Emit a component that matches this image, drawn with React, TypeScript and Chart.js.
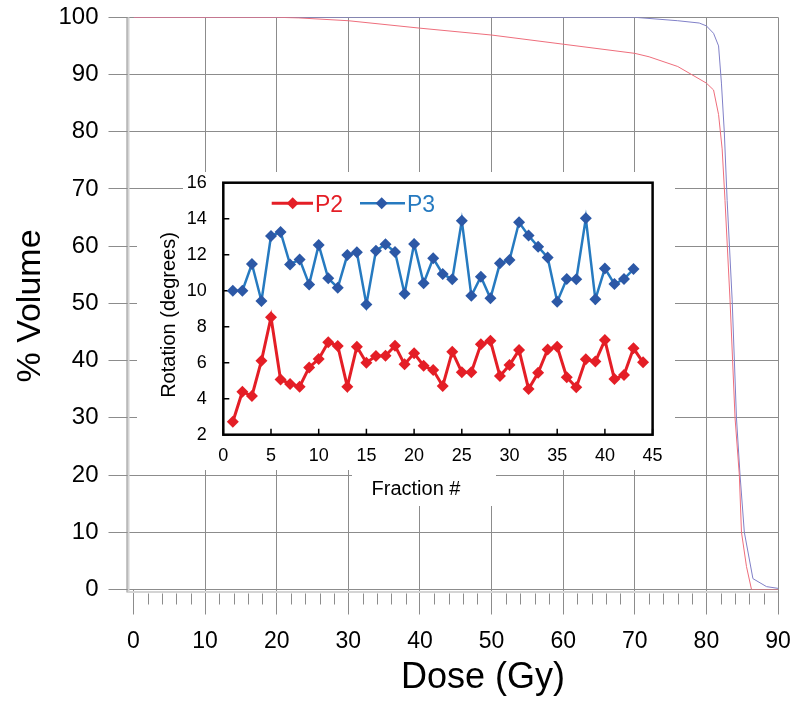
import React, { useEffect, useRef } from 'react';
import { Chart, registerables } from 'chart.js';

Chart.register(...registerables);

const FONT = "'Liberation Sans', Arial, Helvetica, sans-serif";

// ---- Main dose-volume histogram ----
const redDose = [0, 20, 23, 30, 40, 50, 60, 70, 72, 76, 80, 81, 81.7, 82.2, 82.6, 83.3, 84.0, 84.6, 84.9, 85.6, 86.3, 90];
const redVolume = [100, 100, 99.9, 99.4, 98.1, 96.9, 95.3, 93.7, 93.1, 91.4, 88.5, 87.3, 83, 77, 68, 50.6, 30, 20, 10, 4, 0, 0];
const blueDose = [0, 70, 76, 79, 80, 81, 81.7, 82.1, 82.5, 82.9, 83.6, 84.2, 84.7, 85.3, 86.5, 88.4, 90];
const blueVolume = [100, 100, 99.4, 99, 98.5, 97.2, 95, 88.5, 80, 68, 50.6, 30, 20, 10, 1.9, 0.5, 0.2];
const doseTitle = 'Dose (Gy)';
const volumeTitle = '% Volume';

// ---- Inset: rotation per fraction ----
const p2Fractions = [1, 2, 3, 4, 5, 6, 7, 8, 9, 10, 11, 12, 13, 14, 15, 16, 17, 18, 19, 20, 21, 22, 23, 24, 25, 26, 27, 28, 29, 30, 31, 32, 33, 34, 35, 36, 37, 38, 39, 40, 41, 42, 43, 44];
const p2Rotation = [2.72, 4.39, 4.15, 6.11, 8.52, 5.07, 4.82, 4.67, 5.74, 6.2, 7.13, 6.93, 4.67, 6.89, 6.0, 6.37, 6.39, 6.94, 5.91, 6.52, 5.83, 5.59, 4.71, 6.61, 5.47, 5.47, 7.02, 7.22, 5.26, 5.87, 6.7, 4.54, 5.44, 6.74, 6.89, 5.19, 4.63, 6.19, 6.06, 7.26, 5.09, 5.31, 6.8, 6.02];
const p3Fractions = [1, 2, 3, 4, 5, 6, 7, 8, 9, 10, 11, 12, 13, 14, 15, 16, 17, 18, 19, 20, 21, 22, 23, 24, 25, 26, 27, 28, 29, 30, 31, 32, 33, 34, 35, 36, 37, 38, 39, 40, 41, 42, 43];
const p3Rotation = [10.0, 10.0, 11.48, 9.43, 13.04, 13.26, 11.46, 11.74, 10.35, 12.54, 10.69, 10.17, 11.98, 12.13, 9.24, 12.22, 12.58, 12.15, 9.83, 12.6, 10.41, 11.8, 10.93, 10.63, 13.89, 9.72, 10.78, 9.58, 11.52, 11.7, 13.8, 13.06, 12.44, 11.85, 9.39, 10.65, 10.63, 14.02, 9.52, 11.24, 10.37, 10.65, 11.2];
const seriesNames = ['P2', 'P3'];
const insetXTitle = 'Fraction #';
const insetYTitle = 'Rotation (degrees)';

const RED = 'rgb(228,30,38)';
const BLUE_LINE = 'rgb(38,122,192)';
const BLUE_MARK = 'rgb(44,88,166)';
const GRID = 'rgb(140,140,140)';

// inset canvas placement on the page
const INSET = { left: 130, top: 165, width: 550, height: 345 };

function diamond(ctx: CanvasRenderingContext2D, x: number, y: number, r: number, color: string) {
  ctx.save();
  ctx.fillStyle = color;
  ctx.beginPath();
  ctx.moveTo(x, y - r);
  ctx.lineTo(x + r, y);
  ctx.lineTo(x, y + r);
  ctx.lineTo(x - r, y);
  ctx.closePath();
  ctx.fill();
  ctx.restore();
}

function noPad(s: any) {
  s.paddingTop = 0;
  s.paddingBottom = 0;
  s.paddingLeft = 0;
  s.paddingRight = 0;
}

export default function App() {
  const mainRef = useRef<HTMLCanvasElement | null>(null);
  const insetRef = useRef<HTMLCanvasElement | null>(null);

  useEffect(() => {
    const mainDecor = {
      id: 'mainDecor',
      beforeDatasetsDraw(chart: any) {
        const ctx = chart.ctx as CanvasRenderingContext2D;
        const { left, right, top, bottom } = chart.chartArea;
        const xs = chart.scales.x;
        ctx.save();
        // light axis bands
        ctx.strokeStyle = 'rgb(212,212,212)';
        ctx.lineWidth = 2;
        ctx.beginPath();
        ctx.moveTo(left - 5, top);
        ctx.lineTo(left - 5, bottom + 2.5);
        ctx.lineTo(right, bottom + 2.5);
        ctx.stroke();
        // y axis line (slightly left of dose 0)
        ctx.strokeStyle = GRID;
        ctx.lineWidth = 1;
        ctx.beginPath();
        ctx.moveTo(left - 6.5, top);
        ctx.lineTo(left - 6.5, bottom + 3);
        ctx.stroke();
        // minor ticks every 2 Gy
        ctx.beginPath();
        for (let v = 0; v <= 90; v += 2) {
          if (v % 10 === 0) continue;
          const px = Math.round(xs.getPixelForValue(v)) + 0.5;
          ctx.moveTo(px, bottom + 4);
          ctx.lineTo(px, bottom + 15);
        }
        ctx.stroke();
        ctx.restore();
      },
      afterDraw(chart: any) {
        const ctx = chart.ctx as CanvasRenderingContext2D;
        ctx.save();
        ctx.fillStyle = '#000';
        ctx.font = `36px ${FONT}`;
        ctx.textAlign = 'center';
        ctx.textBaseline = 'alphabetic';
        ctx.fillText(doseTitle, 483, 688);
        ctx.font = `34px ${FONT}`;
        ctx.translate(31, 306);
        ctx.rotate(-Math.PI / 2);
        ctx.textBaseline = 'middle';
        ctx.fillText(volumeTitle, 0, 0);
        ctx.restore();
      },
    };

    const main = new Chart(mainRef.current as HTMLCanvasElement, {
      type: 'scatter',
      data: {
        datasets: [
          {
            label: 'Red',
            data: redDose.map((d, i) => ({ x: d, y: redVolume[i] })),
            showLine: true,
            borderColor: 'rgb(238,110,124)',
            borderWidth: 1,
            pointRadius: 0,
            tension: 0,
          },
          {
            label: 'Blue',
            data: blueDose.map((d, i) => ({ x: d, y: blueVolume[i] })),
            showLine: true,
            borderColor: 'rgb(128,128,200)',
            borderWidth: 1,
            pointRadius: 0,
            tension: 0,
          },
        ],
      },
      options: {
        animation: false,
        responsive: false,
        maintainAspectRatio: false,
        layout: { autoPadding: false, padding: { left: 0, right: 22, top: 17.3, bottom: 0 } },
        plugins: { legend: { display: false }, tooltip: { enabled: false } },
        scales: {
          x: {
            type: 'linear',
            min: 0,
            max: 90,
            afterFit: (s: any) => { s.height = 704 - 589.5; noPad(s); },
            ticks: { stepSize: 10, font: { family: FONT, size: 23 }, color: '#000', padding: 13.5, maxRotation: 0, autoSkip: false },
            grid: {
              color: (c: any) => (c.tick && c.tick.value === 0 ? 'rgba(0,0,0,0)' : GRID),
              lineWidth: 1,
              tickLength: 25,
              tickColor: GRID,
            },
            border: { display: false },
          },
          y: {
            type: 'linear',
            min: 0,
            max: 100,
            afterFit: (s: any) => { s.width = 133.5; noPad(s); },
            ticks: { stepSize: 10, font: { family: FONT, size: 24 }, color: '#000', padding: 10 },
            grid: { color: GRID, lineWidth: 1, tickLength: 25, tickColor: GRID },
            border: { display: false },
          },
        },
      } as any,
      plugins: [mainDecor],
    });

    const ox = INSET.left;
    const oy = INSET.top;
    const insetDecor = {
      id: 'insetDecor',
      beforeDraw(chart: any) {
        const ctx = chart.ctx as CanvasRenderingContext2D;
        ctx.save();
        ctx.fillStyle = '#fff';
        ctx.fillRect(183 - ox, 172 - oy, 675 - 183, 470 - 172);
        ctx.fillRect(137 - ox, 200 - oy, 183 - 137 + 1, 445 - 200);
        ctx.fillRect(352 - ox, 469 - oy, 496 - 352, 506 - 469);
        ctx.restore();
      },
      beforeDatasetsDraw(chart: any) {
        const ctx = chart.ctx as CanvasRenderingContext2D;
        const { left, right, top, bottom } = chart.chartArea;
        const xs = chart.scales.x;
        const ys = chart.scales.y;
        ctx.save();
        ctx.strokeStyle = '#000';
        ctx.lineWidth = 1.5;
        ctx.beginPath();
        for (const t of xs.ticks) {
          const px = xs.getPixelForValue(t.value);
          ctx.moveTo(px, bottom);
          ctx.lineTo(px, bottom - 6);
        }
        for (const t of ys.ticks) {
          const py = ys.getPixelForValue(t.value);
          ctx.moveTo(left, py);
          ctx.lineTo(left + 6, py);
        }
        ctx.stroke();
        ctx.lineWidth = 2.5;
        ctx.strokeRect(left, top, right - left, bottom - top);
        ctx.restore();
      },
      afterDraw(chart: any) {
        const ctx = chart.ctx as CanvasRenderingContext2D;
        ctx.save();
        // legend
        const ly = 203.3 - oy;
        const entries = [
          { name: seriesNames[0], x0: 271.7, x1: 313, dx: 292.7, tx: 315, line: RED, mark: RED, text: RED, w: 3 },
          { name: seriesNames[1], x0: 360, x1: 405, dx: 381.7, tx: 407, line: BLUE_LINE, mark: BLUE_MARK, text: BLUE_LINE, w: 2.5 },
        ];
        for (const e of entries) {
          ctx.strokeStyle = e.line;
          ctx.lineWidth = e.w;
          ctx.beginPath();
          ctx.moveTo(e.x0 - ox, ly);
          ctx.lineTo(e.x1 - ox, ly);
          ctx.stroke();
          diamond(ctx, e.dx - ox, ly, 6, e.mark);
          ctx.fillStyle = e.text;
          ctx.font = `23px ${FONT}`;
          ctx.textAlign = 'left';
          ctx.textBaseline = 'alphabetic';
          ctx.fillText(e.name, e.tx - ox, 211.5 - oy);
        }
        // titles
        ctx.fillStyle = '#000';
        ctx.font = `20px ${FONT}`;
        ctx.textAlign = 'center';
        ctx.textBaseline = 'middle';
        ctx.fillText(insetXTitle, 416 - ox, 489.5 - oy);
        ctx.translate(169 - ox, 315 - oy);
        ctx.rotate(-Math.PI / 2);
        ctx.fillText(insetYTitle, 0, 0);
        ctx.restore();
      },
    };

    const inset = new Chart(insetRef.current as HTMLCanvasElement, {
      type: 'scatter',
      data: {
        datasets: [
          {
            label: seriesNames[0],
            data: p2Fractions.map((f, i) => ({ x: f, y: p2Rotation[i] })),
            showLine: true,
            borderColor: RED,
            borderWidth: 3,
            pointStyle: 'rectRot',
            pointRadius: 6,
            pointBackgroundColor: RED,
            pointBorderColor: RED,
            pointBorderWidth: 0,
            tension: 0,
          },
          {
            label: seriesNames[1],
            data: p3Fractions.map((f, i) => ({ x: f, y: p3Rotation[i] })),
            showLine: true,
            borderColor: BLUE_LINE,
            borderWidth: 2.5,
            pointStyle: 'rectRot',
            pointRadius: 6,
            pointBackgroundColor: BLUE_MARK,
            pointBorderColor: BLUE_MARK,
            pointBorderWidth: 0,
            tension: 0,
          },
        ],
      },
      options: {
        animation: false,
        responsive: false,
        maintainAspectRatio: false,
        layout: { autoPadding: false, padding: { left: 0, right: 27.4, top: 17.7, bottom: 0 } },
        plugins: { legend: { display: false }, tooltip: { enabled: false } },
        scales: {
          x: {
            type: 'linear',
            min: 0,
            max: 45,
            afterFit: (s: any) => { s.height = 75.3; noPad(s); },
            ticks: { stepSize: 5, font: { family: FONT, size: 18 }, color: '#000', padding: 11, maxRotation: 0, autoSkip: false },
            grid: { display: false, drawTicks: false },
            border: { display: false },
          },
          y: {
            type: 'linear',
            min: 2,
            max: 16,
            afterFit: (s: any) => { s.width = 93.3; noPad(s); },
            ticks: { stepSize: 2, font: { family: FONT, size: 18 }, color: '#000', padding: 16.5 },
            grid: { display: false, drawTicks: false },
            border: { display: false },
          },
        },
      } as any,
      plugins: [insetDecor],
    });

    return () => {
      main.destroy();
      inset.destroy();
    };
  }, []);

  return (
    <div style={{ position: 'fixed', left: 0, top: 0, width: 800, height: 704, background: '#fff' }}>
      <canvas ref={mainRef} width={800} height={704} style={{ position: 'absolute', left: 0, top: 0, width: 800, height: 704 }} />
      <canvas
        ref={insetRef}
        width={INSET.width}
        height={INSET.height}
        style={{ position: 'absolute', left: INSET.left, top: INSET.top, width: INSET.width, height: INSET.height }}
      />
    </div>
  );
}
